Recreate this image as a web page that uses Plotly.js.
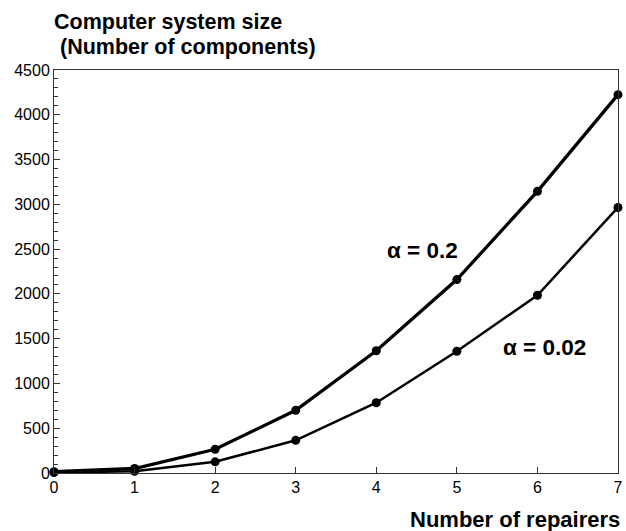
<!DOCTYPE html>
<html>
<head>
<meta charset="utf-8">
<script src="https://cdn.plot.ly/plotly-3.0.1.min.js"></script>
<style>
  html, body { margin: 0; padding: 0; background: #fff; }
  #chart { width: 626px; height: 531px; }
</style>
</head>
<body>
<div id="chart"></div>
<script>
// Number of repairers on the x axis
const repairers = [0, 1, 2, 3, 4, 5, 6, 7];
// System size (number of components) for each failure rate
const sizeAlpha02 = [15, 50, 265, 700, 1365, 2160, 3145, 4225];
const sizeAlpha002 = [5, 20, 125, 365, 785, 1360, 1985, 2965];
const seriesLabels = ['\u03b1 = 0.2', '\u03b1 = 0.02'];
const yTickVals = [0, 500, 1000, 1500, 2000, 2500, 3000, 3500, 4000, 4500];

const font = 'Liberation Sans, Arial, sans-serif';
const boldFont = (size) => ({ family: font, size: size, weight: 'bold', color: '#000' });

const traces = [
  {
    x: repairers, y: sizeAlpha02, name: seriesLabels[0],
    mode: 'lines+markers', cliponaxis: false,
    line: { color: '#000', width: 3.3 },
    marker: { color: '#000', size: 9 }
  },
  {
    x: repairers, y: sizeAlpha002, name: seriesLabels[1],
    mode: 'lines+markers', cliponaxis: false,
    line: { color: '#000', width: 2.5 },
    marker: { color: '#000', size: 9 }
  }
];

const layout = {
  width: 626, height: 531,
  margin: { l: 54, r: 8, t: 70, b: 58 },
  paper_bgcolor: '#fff', plot_bgcolor: '#fff',
  showlegend: false,
  font: { family: font, color: '#000', size: 16 },
  xaxis: {
    range: [0, 7], tickvals: repairers,
    ticks: 'inside', ticklen: 6, tickcolor: '#333', tickwidth: 1,
    showline: true, linecolor: '#333', linewidth: 1, mirror: true,
    showgrid: false, zeroline: false,
    tickfont: { family: font, size: 16, color: '#000' }
  },
  yaxis: {
    range: [0, 4500], tickvals: yTickVals,
    ticks: 'inside', ticklen: 6, tickcolor: '#333', tickwidth: 1,
    minor: { dtick: 100, ticks: 'inside', ticklen: 4, tickcolor: '#333', tickwidth: 1, showgrid: false },
    showline: true, linecolor: '#333', linewidth: 1, mirror: true,
    showgrid: false, zeroline: false,
    tickfont: { family: font, size: 16, color: '#000' }
  },
  annotations: [
    // chart title, two lines
    {
      x: -0.004, y: 1 + (70 - 22) / 403, xref: 'paper', yref: 'paper',
      xanchor: 'left', yanchor: 'middle', showarrow: false,
      text: 'Computer system size', font: boldFont(21.5)
    },
    {
      x: -0.004, y: 1 + (70 - 47) / 403, xref: 'paper', yref: 'paper',
      xanchor: 'left', yanchor: 'middle', showarrow: false,
      text: '\u00a0(Number of components)', font: boldFont(21.5)
    },
    // series labels
    {
      x: 4.57, y: 2490, xref: 'x', yref: 'y', showarrow: false,
      text: seriesLabels[0], font: boldFont(22.5)
    },
    {
      x: 6.09, y: 1400, xref: 'x', yref: 'y', showarrow: false,
      text: seriesLabels[1], font: boldFont(22.5)
    },
    // x axis title
    {
      x: 1.007, y: -(519 - 473) / 403, xref: 'paper', yref: 'paper',
      xanchor: 'right', yanchor: 'middle', showarrow: false,
      text: 'Number of repairers', font: boldFont(22)
    }
  ]
};

Plotly.newPlot('chart', traces, layout, { displayModeBar: false, staticPlot: true });
</script>
</body>
</html>
